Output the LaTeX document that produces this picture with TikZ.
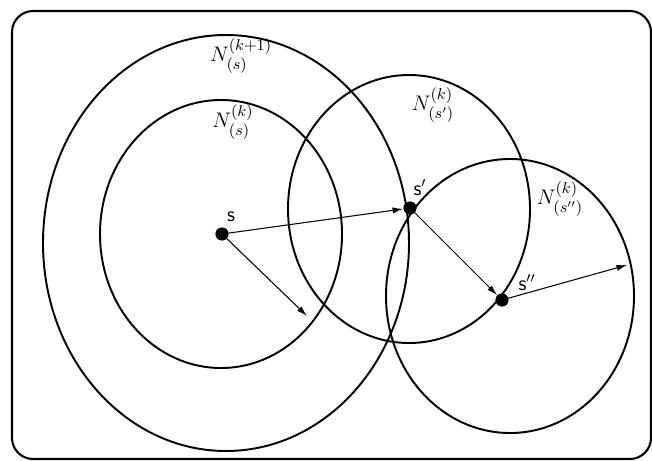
\documentclass[tikz,border=0pt]{standalone}
\usetikzlibrary{arrows.meta}
\begin{document}
\begin{tikzpicture}[x=0.02cm, y=-0.02cm,
    pt/.style={circle, fill=black, inner sep=0pt, minimum size=7.5pt},
    nbhd/.style={line width=1.1pt},
    move/.style={line width=0.6pt, -{Latex[length=6pt, width=3.5pt]}, shorten <=-1pt},
    nlab/.style={font=\fontsize{12.5}{15}\selectfont},
    slab/.style={font=\sffamily\fontsize{12}{14}\selectfont}]
    \useasboundingbox (0,0) rectangle (652,460);
    \draw[line width=1.2pt, rounded corners=12] (12,11) rectangle (651,459);

    % neighbourhoods
    \draw[nbhd] (226,243) ellipse [x radius=183, y radius=208];
    \draw[nbhd] (221,234) ellipse [x radius=121, y radius=134];
    \draw[nbhd] (409,209) ellipse [x radius=121, y radius=134];
    \draw[nbhd] (510,296) ellipse [x radius=124, y radius=137];

    \node[nlab] (L1) at (241,56) {$N_{(s)}^{(k+1)}$};
    \node[nlab] (L2) at (233,122) {$N_{(s)}^{(k)}$};
    \node[nlab] (L3) at (433,105) {$N_{(s')}^{(k)}$};
    \node[nlab] (L4) at (560,199) {$N_{(s'')}^{(k)}$};

    % solutions
    \node[pt] (s) at (222,234) {};
    \node[pt] (s1) at (410,208) {};
    \node[pt] (s2) at (502,300) {};
    \node[slab] at (231,217) {s};
    \node[slab] at (420,188) {s$'$};
    \node[slab] at (527,283) {s$''$};

    \coordinate (e1) at (307,316);
    \coordinate (e2) at (627,265);

    \draw[move] (s) -- (s1);
    \draw[move] (s) -- (e1);
    \draw[move] (s1) -- (s2);
    \draw[move] (s2) -- (e2);
\end{tikzpicture}
\end{document}
